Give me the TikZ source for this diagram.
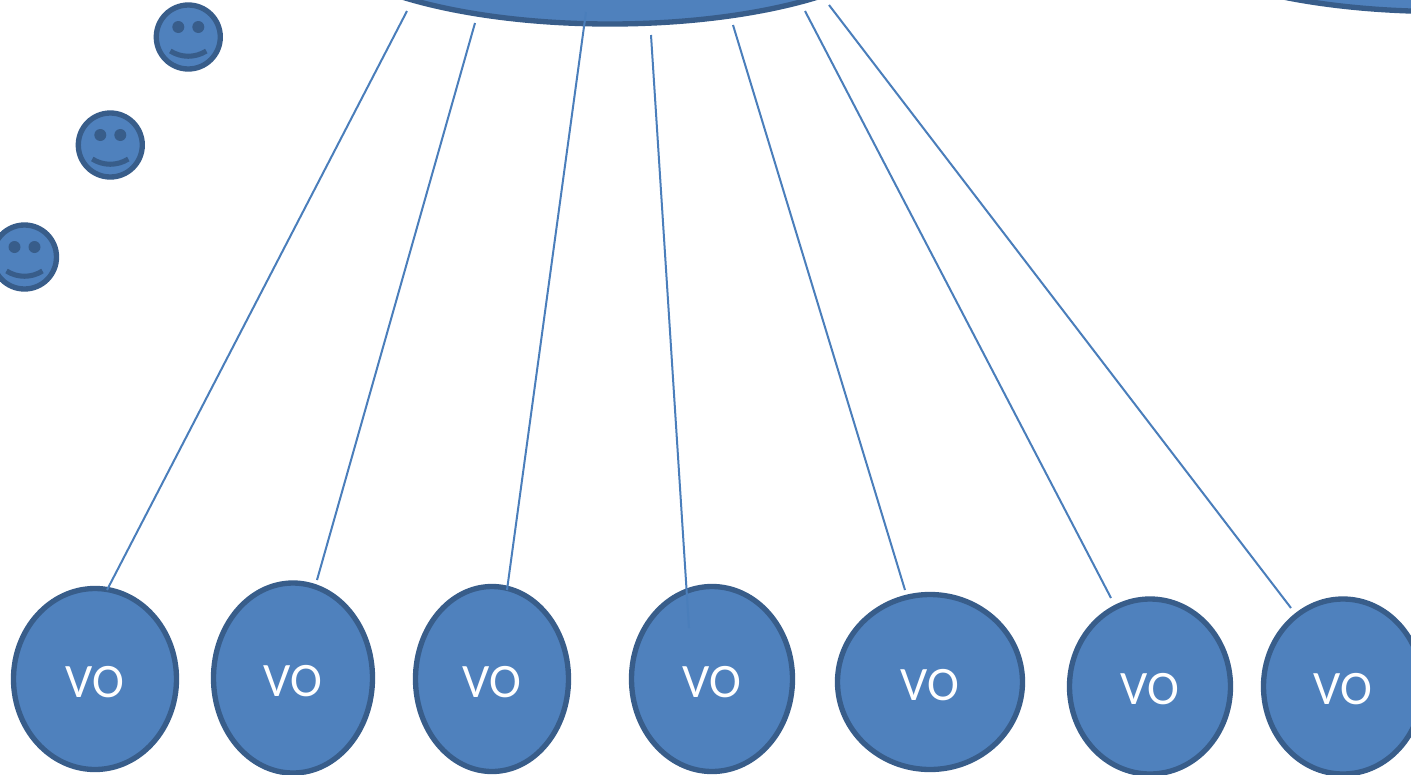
\documentclass[tikz,border=0pt]{standalone}
\usepackage{fontspec}
\setmainfont{Carlito}
\usetikzlibrary{shapes.geometric}
\definecolor{fillblue}{HTML}{4F81BD}
\definecolor{edgeblue}{HTML}{385D8A}
\definecolor{lineblue}{HTML}{4A7EBB}
\tikzset{
  blob/.style={ellipse,draw=edgeblue,fill=fillblue,line width=4pt,inner sep=0pt,outer sep=0pt},
  voball/.style 2 args={blob,text=white,font=\fontsize{36}{36}\selectfont,minimum width=0.75pt*#1,minimum height=0.75pt*#2},
  link/.style={draw=lineblue,line width=1.5pt},
  smiley/.pic={
    \fill[fillblue,draw=edgeblue,line width=4pt] (0,0) circle[radius=32];
    \fill[edgeblue] (-10,-10) circle[radius=6] (10,-10) circle[radius=6];
    \draw[edgeblue,line width=3.8pt] (-18,14) .. controls (-7,21) and (7,21) .. (18,14);
  }
}
\newcommand{\votext}{\raisebox{-13.5pt}[0pt][0pt]{VO}}
\begin{document}
\begin{tikzpicture}[x=0.75pt,y=-0.75pt]
\path[use as bounding box,clip] (0,0) rectangle (1411,775);
\fill[white] (0,0) rectangle (1411,775);
% hubs
\node[blob,minimum width=456.5pt,minimum height=150pt] (hubA) at (610,-76) {};
\node[blob,minimum width=456.5pt,minimum height=150pt] (hubB) at (1441,-88.5) {};
% smileys
\pic at (188.3,37) {smiley};
\pic at (110.3,145) {smiley};
\pic at (24.5,257) {smiley};
% VO nodes
\node[voball={163}{181}] (v1) at (95,679) {\votext};
\node[voball={159}{190}] (v2) at (293,678) {\votext};
\node[voball={153}{185}] (v3) at (492,679) {\votext};
\node[voball={161}{185}] (v4) at (712,679) {\votext};
\node[voball={185}{175}] (v5) at (930,682) {\votext};
\node[voball={161}{175}] (v6) at (1150,686.5) {\votext};
\node[voball={159}{175}] (v7) at (1343,686.5) {\votext};
% free connector ends
\coordinate (a1) at (407,11);   \coordinate (b1) at (107,590);
\coordinate (a2) at (475,23);   \coordinate (b2) at (317,580);
\coordinate (a3) at (586,12);   \coordinate (b3) at (507,590);
\coordinate (a4) at (651,35);   \coordinate (b4) at (689,628);
\coordinate (a5) at (733,25);   \coordinate (b5) at (905,590);
\coordinate (a6) at (805,11);   \coordinate (b6) at (1111,598);
\coordinate (a7) at (829,5);    \coordinate (b7) at (1291,608);
\foreach \i in {1,...,7}{\draw[link] (a\i) -- (b\i);}
\end{tikzpicture}
\end{document}
